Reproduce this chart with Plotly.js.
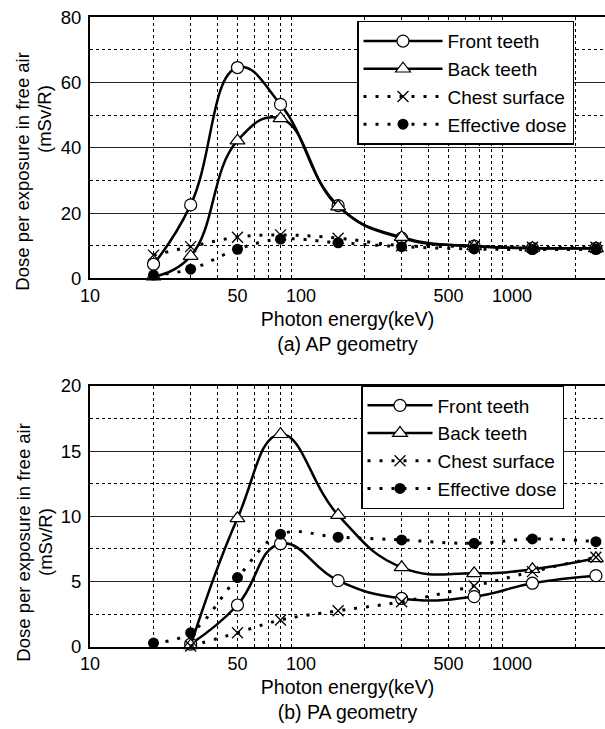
<!DOCTYPE html>
<html><head><meta charset="utf-8">
<script src="https://cdn.plot.ly/plotly-3.0.1.min.js"></script>
<style>html,body{margin:0;padding:0;background:#fff}#chart{width:605px;height:729px}</style>
</head><body><div id="chart"></div>
<script>
// ---- data ----
const energyAP = [20, 30, 50, 80, 150, 300, 662, 1250, 2500];
const frontAP  = [4.3, 22.5, 64.6, 53.3, 22.3, 12.3, 9.9, 9.2, 9.2];
const backAP   = [0.5, 6.8, 42.2, 49.0, 22.0, 12.6, 9.8, 9.3, 9.2];
const chestAP  = [7.1, 9.7, 12.6, 13.3, 12.3, 10.0, 9.8, 9.5, 9.5];
const effAP    = [1.0, 2.8, 8.9, 12.0, 10.9, 9.7, 9.0, 8.8, 8.9];

const energyPA    = [30, 50, 80, 150, 300, 662, 1250, 2500];
const frontPA     = [0.2, 3.2, 7.9, 5.07, 3.7, 3.84, 4.87, 5.45];
const backPA      = [0.1, 9.85, 16.3, 10.1, 6.09, 5.63, 5.94, 6.78];
const chestPA     = [0.05, 1.07, 2.05, 2.76, 3.45, 4.66, 5.76, 6.86];
const energyEffPA = [20, 30, 50, 80, 150, 300, 662, 1250, 2500];
const effPA       = [0.28, 1.07, 5.3, 8.63, 8.4, 8.19, 7.93, 8.27, 8.06];

const seriesNames = ['Front teeth', 'Back teeth', 'Chest surface', 'Effective dose'];
const xTickVals  = [10, 50, 100, 500, 1000];
const xTickText  = ['10', '50', '100', '500', '1000'];
const xMajorGrid = [100, 1000];
const xMinorGrid = [20, 30, 40, 50, 60, 70, 80, 90, 200, 300, 400, 500, 600, 700, 800, 900, 2000];
const yTicksAP = [0, 20, 40, 60, 80];
const yTicksPA = [0, 5, 10, 15, 20];

// ---- styling ----
const FONT = 'Liberation Sans, Arial, sans-serif';
const W = 605, H = 729;
const px = v => v / W, py = v => 1 - v / H;
const dotDash = '3px,9px';

function styles(xa, ya, leg) {
  return [
    {mode: 'lines+markers', line: {shape: 'spline', smoothing: 1.3, color: '#000', width: 2.5},
     marker: {symbol: 'circle', size: 12, color: '#fff', line: {color: '#000', width: 1.2}}},
    {mode: 'lines+markers', line: {shape: 'spline', smoothing: 1.3, color: '#000', width: 2.5},
     marker: {symbol: 'triangle-up', size: 13, color: '#fff', line: {color: '#000', width: 1.2}}},
    {mode: 'lines+markers', line: {shape: 'spline', smoothing: 1.1, color: '#000', width: 3, dash: dotDash},
     marker: {symbol: 'x-thin-open', size: 11, color: '#000', line: {color: '#000', width: 1.3}}},
    {mode: 'lines+markers', line: {shape: 'spline', smoothing: 1.1, color: '#000', width: 3, dash: dotDash},
     marker: {symbol: 'circle', size: 11, color: '#000'}}
  ].map((s, i) => Object.assign(s, {name: seriesNames[i], xaxis: xa, yaxis: ya, legend: leg, cliponaxis: false}));
}

const sAP = styles('x', 'y', 'legend');
const sPA = styles('x2', 'y2', 'legend2');
const data = [
  Object.assign({x: energyAP, y: frontAP}, sAP[0]),
  Object.assign({x: energyAP, y: backAP}, sAP[1]),
  Object.assign({x: energyAP, y: chestAP}, sAP[2]),
  Object.assign({x: energyAP, y: effAP}, sAP[3]),
  Object.assign({x: energyPA, y: frontPA}, sPA[0]),
  Object.assign({x: energyPA, y: backPA}, sPA[1]),
  Object.assign({x: energyPA, y: chestPA}, sPA[2]),
  Object.assign({x: energyEffPA, y: effPA}, sPA[3])
];

const xRange = [1, 3.441];
function xMain(anchor, title) {
  return {
    type: 'log', range: xRange, domain: [px(90), 1], anchor: anchor,
    tickmode: 'array', tickvals: xTickVals, ticktext: xTickText, ticks: '',
    showgrid: false, zeroline: false,
    showline: true, linecolor: '#000', linewidth: 2, mirror: true,
    tickfont: {family: FONT, size: 18, color: '#000'},
    minor: {tickmode: 'array', tickvals: xMinorGrid, showgrid: true, gridcolor: '#000', gridwidth: 1, griddash: 'dot', ticks: ''},
    title: {text: title, font: {family: FONT, size: 19.5, color: '#000'}, standoff: 7}
  };
}
function xGrid(over, anchor) {
  return {
    type: 'log', range: xRange, overlaying: over, anchor: anchor, domain: [px(90), 1],
    tickmode: 'array', tickvals: xMajorGrid, showticklabels: false, ticks: '',
    showgrid: true, gridcolor: '#222', gridwidth: 1, zeroline: false, showline: false
  };
}
function yAx(domain, range, vals, minorStep, anchor) {
  return {
    range: range, domain: domain, anchor: anchor,
    tickmode: 'array', tickvals: vals, ticks: '', ticklabelstandoff: 3,
    showgrid: true, gridcolor: '#222', gridwidth: 1, zeroline: false,
    showline: true, linecolor: '#000', linewidth: 2, mirror: false,
    tickfont: {family: FONT, size: 18.5, color: '#000'},
    minor: {dtick: minorStep, showgrid: true, gridcolor: '#000', gridwidth: 1, griddash: 'dot', ticks: ''}
  };
}

const legendBase = {
  xanchor: 'left', yanchor: 'top', bgcolor: '#fff', bordercolor: '#000', borderwidth: 1.5,
  font: {family: FONT, size: 19, color: '#000'}, tracegroupgap: 0
};

const layout = {
  width: W, height: H, margin: {l: 0, r: 0, t: 0, b: 0},
  paper_bgcolor: '#fff', plot_bgcolor: '#fff', showlegend: true,
  font: {family: FONT, size: 18, color: '#000'},
  xaxis: xMain('y', 'Photon energy(keV)<br>(a) AP geometry'),
  yaxis: yAx([py(278.3), py(17.3)], [0, 80], yTicksAP, 10, 'x'),
  xaxis2: xMain('y2', 'Photon energy(keV)<br>(b) PA geometry'),
  yaxis2: yAx([py(646.7), py(386)], [0, 20], yTicksPA, 2.5, 'x2'),
  xaxis3: xGrid('x', 'y'),
  xaxis4: xGrid('x2', 'y2'),
  legend: Object.assign({x: px(357), y: py(20.7), itemwidth: 79}, legendBase),
  legend2: Object.assign({x: px(361), y: py(385), itemwidth: 65}, legendBase),
  annotations: [
    {text: 'Dose per exposure in free air', xref: 'paper', yref: 'paper', x: px(22.7), y: py(171), textangle: -90, showarrow: false, xanchor: 'center', yanchor: 'middle', font: {family: FONT, size: 18.5}},
    {text: '(mSv/R)', xref: 'paper', yref: 'paper', x: px(45), y: py(119), textangle: -90, showarrow: false, xanchor: 'center', yanchor: 'middle', font: {family: FONT, size: 18.5}},
    {text: 'Dose per exposure in free air', xref: 'paper', yref: 'paper', x: px(22.7), y: py(542), textangle: -90, showarrow: false, xanchor: 'center', yanchor: 'middle', font: {family: FONT, size: 18.5}},
    {text: '(mSv/R)', xref: 'paper', yref: 'paper', x: px(45), y: py(542), textangle: -90, showarrow: false, xanchor: 'center', yanchor: 'middle', font: {family: FONT, size: 18.5}}
  ]
};

Plotly.newPlot('chart', data, layout, {displayModeBar: false, staticPlot: true});
</script>
</body></html>
